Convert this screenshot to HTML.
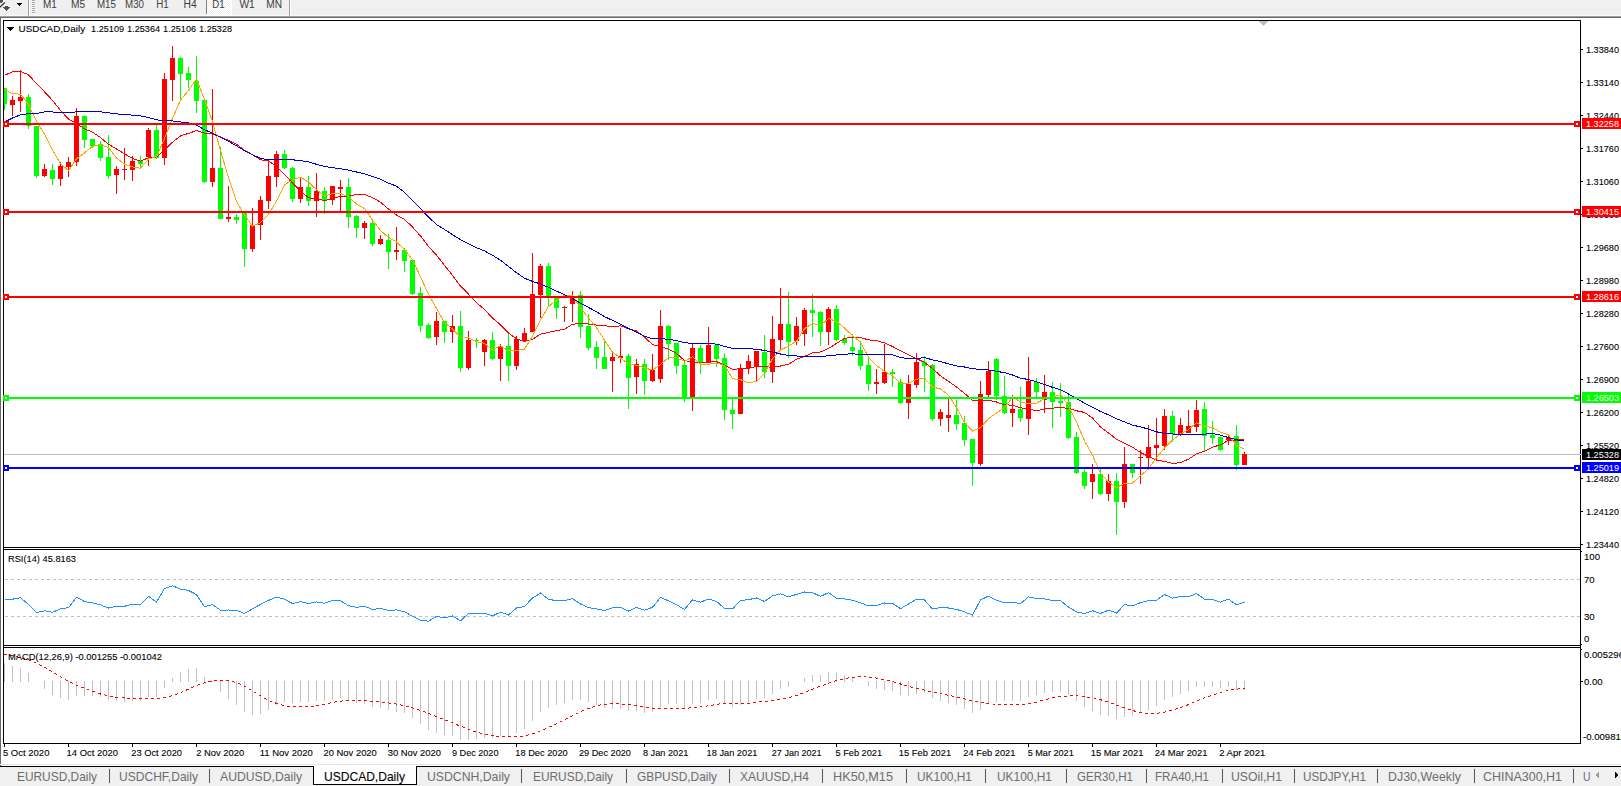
<!DOCTYPE html><html><head><meta charset="utf-8"><title>USDCAD,Daily</title>
<style>html,body{margin:0;padding:0;background:#fff;overflow:hidden}svg{display:block}text{font-family:"Liberation Sans",sans-serif;}</style></head><body>
<svg width="1621" height="786" viewBox="0 0 1621 786">
<rect x="0" y="0" width="1621" height="786" fill="#fff"/>
<defs><pattern id="chk" width="2" height="2" patternUnits="userSpaceOnUse"><rect width="2" height="2" fill="#f0f0f0"/><rect x="0" y="0" width="1" height="1" fill="#fff"/><rect x="1" y="1" width="1" height="1" fill="#fff"/></pattern></defs>
<g shape-rendering="crispEdges">
<rect x="0" y="0" width="1621" height="15" fill="#f0f0f0" />
<rect x="0" y="15" width="1621" height="1" fill="#fafafa" />
<rect x="0" y="16" width="1621" height="1" fill="#a0a0a0" />
<rect x="0" y="17" width="1621" height="1" fill="#696969" />
<rect x="0" y="18" width="1" height="768" fill="#696969" />
<rect x="28" y="0" width="1" height="16" fill="#a0a0a0" />
<rect x="29" y="0" width="1" height="15" fill="#ffffff" />
<rect x="32" y="0" width="3" height="1" fill="#a8a8a8" />
<rect x="32" y="1" width="3" height="1" fill="#fbfbfb" />
<rect x="32" y="2" width="3" height="1" fill="#a8a8a8" />
<rect x="32" y="3" width="3" height="1" fill="#fbfbfb" />
<rect x="32" y="4" width="3" height="1" fill="#a8a8a8" />
<rect x="32" y="5" width="3" height="1" fill="#fbfbfb" />
<rect x="32" y="6" width="3" height="1" fill="#a8a8a8" />
<rect x="32" y="7" width="3" height="1" fill="#fbfbfb" />
<rect x="32" y="8" width="3" height="1" fill="#a8a8a8" />
<rect x="32" y="9" width="3" height="1" fill="#fbfbfb" />
<rect x="32" y="10" width="3" height="1" fill="#a8a8a8" />
<rect x="32" y="11" width="3" height="1" fill="#fbfbfb" />
<rect x="32" y="12" width="3" height="1" fill="#a8a8a8" />
<rect x="32" y="13" width="3" height="1" fill="#fbfbfb" />
<rect x="207" y="0" width="24" height="14" fill="url(#chk)" />
<rect x="207" y="14" width="25" height="1" fill="#fff" />
<rect x="231" y="0" width="1" height="14" fill="#fff" />
<rect x="206" y="0" width="1" height="14" fill="#808080" />
<rect x="289" y="0" width="1" height="16" fill="#a0a0a0" />
<rect x="290" y="0" width="1" height="15" fill="#ffffff" />
<rect x="17" y="3" width="5" height="1" fill="#000" />
<rect x="18" y="4" width="3" height="1" fill="#000" />
<rect x="19" y="5" width="1" height="1" fill="#000" />
<rect x="5" y="6" width="3" height="1" fill="#505050" />
<rect x="3" y="7" width="7" height="1" fill="#505050" />
<rect x="4" y="8" width="5" height="1" fill="#505050" />
<rect x="5" y="9" width="3" height="1" fill="#505050" />
<rect x="6" y="10" width="1" height="1" fill="#505050" />
<rect x="0" y="0" width="3" height="2" fill="#505050" />
<rect x="0" y="2" width="2" height="1" fill="#606060" />
</g>
<path d="M-0.5 7.6 L4.8 2.4" stroke="#3a3a3a" stroke-width="1.4" fill="none"/>
<text x="42.9" y="8" font-size="10" fill="#3c3c3c" textLength="13.8" lengthAdjust="spacingAndGlyphs" >M1</text>
<text x="71.0" y="8" font-size="10" fill="#3c3c3c" textLength="14.1" lengthAdjust="spacingAndGlyphs" >M5</text>
<text x="96.89999999999999" y="8" font-size="10" fill="#3c3c3c" textLength="19.0" lengthAdjust="spacingAndGlyphs" >M15</text>
<text x="125.0" y="8" font-size="10" fill="#3c3c3c" textLength="19.0" lengthAdjust="spacingAndGlyphs" >M30</text>
<text x="156.20000000000002" y="8" font-size="10" fill="#3c3c3c" textLength="12.5" lengthAdjust="spacingAndGlyphs" >H1</text>
<text x="183.5" y="8" font-size="10" fill="#3c3c3c" textLength="13.2" lengthAdjust="spacingAndGlyphs" >H4</text>
<text x="212.3" y="8" font-size="10" fill="#3c3c3c" textLength="12.4" lengthAdjust="spacingAndGlyphs" >D1</text>
<text x="239.4" y="8" font-size="10" fill="#3c3c3c" textLength="15.3" lengthAdjust="spacingAndGlyphs" >W1</text>
<text x="266.3" y="8" font-size="10" fill="#3c3c3c" textLength="15.8" lengthAdjust="spacingAndGlyphs" >MN</text>
<g shape-rendering="crispEdges">
<rect x="3" y="20" width="1578" height="1" fill="#000" />
<rect x="3" y="20" width="1" height="724" fill="#000" />
<rect x="1580" y="20" width="1" height="724" fill="#000" />
<rect x="3" y="743" width="1578" height="1" fill="#000" />
<rect x="3" y="547" width="1578" height="1" fill="#000" />
<rect x="3" y="549" width="1578" height="1" fill="#000" />
<rect x="4" y="548" width="1576" height="1" fill="#fff" />
<rect x="3" y="645" width="1578" height="1" fill="#000" />
<rect x="3" y="647" width="1578" height="1" fill="#000" />
<rect x="4" y="646" width="1576" height="1" fill="#fff" />
<rect x="1259" y="21" width="9" height="1" fill="#c0c0c0" />
<rect x="1260" y="22" width="7" height="1" fill="#c0c0c0" />
<rect x="1261" y="23" width="5" height="1" fill="#c0c0c0" />
<rect x="1262" y="24" width="3" height="1" fill="#c0c0c0" />
<rect x="1263" y="25" width="1" height="1" fill="#c0c0c0" />
</g>
<g shape-rendering="crispEdges">
<rect x="1581" y="49" width="2" height="1" fill="#000" />
<rect x="1581" y="82" width="2" height="1" fill="#000" />
<rect x="1581" y="115" width="2" height="1" fill="#000" />
<rect x="1581" y="148" width="2" height="1" fill="#000" />
<rect x="1581" y="181" width="2" height="1" fill="#000" />
<rect x="1581" y="214" width="2" height="1" fill="#000" />
<rect x="1581" y="247" width="2" height="1" fill="#000" />
<rect x="1581" y="280" width="2" height="1" fill="#000" />
<rect x="1581" y="313" width="2" height="1" fill="#000" />
<rect x="1581" y="346" width="2" height="1" fill="#000" />
<rect x="1581" y="379" width="2" height="1" fill="#000" />
<rect x="1581" y="412" width="2" height="1" fill="#000" />
<rect x="1581" y="445" width="2" height="1" fill="#000" />
<rect x="1581" y="478" width="2" height="1" fill="#000" />
<rect x="1581" y="511" width="2" height="1" fill="#000" />
<rect x="1581" y="544" width="2" height="1" fill="#000" />
</g>
<text x="1586" y="52.7" font-size="9.6" fill="#000" textLength="33" lengthAdjust="spacingAndGlyphs" stroke="#000" stroke-width="0.1" >1.33840</text>
<text x="1586" y="85.7" font-size="9.6" fill="#000" textLength="33" lengthAdjust="spacingAndGlyphs" stroke="#000" stroke-width="0.1" >1.33140</text>
<text x="1586" y="118.7" font-size="9.6" fill="#000" textLength="33" lengthAdjust="spacingAndGlyphs" stroke="#000" stroke-width="0.1" >1.32440</text>
<text x="1586" y="151.7" font-size="9.6" fill="#000" textLength="33" lengthAdjust="spacingAndGlyphs" stroke="#000" stroke-width="0.1" >1.31760</text>
<text x="1586" y="184.7" font-size="9.6" fill="#000" textLength="33" lengthAdjust="spacingAndGlyphs" stroke="#000" stroke-width="0.1" >1.31060</text>
<text x="1586" y="217.7" font-size="9.6" fill="#000" textLength="33" lengthAdjust="spacingAndGlyphs" stroke="#000" stroke-width="0.1" >1.30360</text>
<text x="1586" y="250.7" font-size="9.6" fill="#000" textLength="33" lengthAdjust="spacingAndGlyphs" stroke="#000" stroke-width="0.1" >1.29680</text>
<text x="1586" y="283.7" font-size="9.6" fill="#000" textLength="33" lengthAdjust="spacingAndGlyphs" stroke="#000" stroke-width="0.1" >1.28980</text>
<text x="1586" y="316.7" font-size="9.6" fill="#000" textLength="33" lengthAdjust="spacingAndGlyphs" stroke="#000" stroke-width="0.1" >1.28280</text>
<text x="1586" y="349.7" font-size="9.6" fill="#000" textLength="33" lengthAdjust="spacingAndGlyphs" stroke="#000" stroke-width="0.1" >1.27600</text>
<text x="1586" y="382.7" font-size="9.6" fill="#000" textLength="33" lengthAdjust="spacingAndGlyphs" stroke="#000" stroke-width="0.1" >1.26900</text>
<text x="1586" y="415.7" font-size="9.6" fill="#000" textLength="33" lengthAdjust="spacingAndGlyphs" stroke="#000" stroke-width="0.1" >1.26200</text>
<text x="1586" y="448.7" font-size="9.6" fill="#000" textLength="33" lengthAdjust="spacingAndGlyphs" stroke="#000" stroke-width="0.1" >1.25520</text>
<text x="1586" y="481.7" font-size="9.6" fill="#000" textLength="33" lengthAdjust="spacingAndGlyphs" stroke="#000" stroke-width="0.1" >1.24820</text>
<text x="1586" y="514.7" font-size="9.6" fill="#000" textLength="33" lengthAdjust="spacingAndGlyphs" stroke="#000" stroke-width="0.1" >1.24120</text>
<text x="1586" y="547.7" font-size="9.6" fill="#000" textLength="33" lengthAdjust="spacingAndGlyphs" stroke="#000" stroke-width="0.1" >1.23440</text>
<defs><clipPath id="cm"><rect x="4" y="21" width="1576" height="526"/></clipPath><clipPath id="cr"><rect x="4" y="550" width="1576" height="95"/></clipPath><clipPath id="cd"><rect x="4" y="648" width="1576" height="95"/></clipPath></defs>
<g shape-rendering="crispEdges">
<rect x="4" y="454" width="1578" height="1" fill="#c0c0c0" />
</g>
<g clip-path="url(#cm)" shape-rendering="crispEdges">
<rect x="4" y="88" width="1" height="22" fill="#00ff00" />
<rect x="2" y="88" width="5" height="16" fill="#00ff00" />
<rect x="12" y="96" width="1" height="20" fill="#ff0000" />
<rect x="10" y="100" width="5" height="5" fill="#ff0000" />
<rect x="20" y="70" width="1" height="42" fill="#ff0000" />
<rect x="18" y="97" width="5" height="4" fill="#ff0000" />
<rect x="28" y="94" width="1" height="35" fill="#00ff00" />
<rect x="26" y="97" width="5" height="29" fill="#00ff00" />
<rect x="36" y="126" width="1" height="52" fill="#00ff00" />
<rect x="34" y="126" width="5" height="50" fill="#00ff00" />
<rect x="44" y="164" width="1" height="13" fill="#ff0000" />
<rect x="42" y="169" width="5" height="7" fill="#ff0000" />
<rect x="52" y="164" width="1" height="21" fill="#00ff00" />
<rect x="50" y="170" width="5" height="9" fill="#00ff00" />
<rect x="60" y="162" width="1" height="24" fill="#ff0000" />
<rect x="58" y="166" width="5" height="13" fill="#ff0000" />
<rect x="68" y="157" width="1" height="20" fill="#ff0000" />
<rect x="66" y="162" width="5" height="5" fill="#ff0000" />
<rect x="76" y="108" width="1" height="58" fill="#ff0000" />
<rect x="74" y="116" width="5" height="46" fill="#ff0000" />
<rect x="84" y="116" width="1" height="32" fill="#00ff00" />
<rect x="82" y="116" width="5" height="24" fill="#00ff00" />
<rect x="92" y="139" width="1" height="9" fill="#00ff00" />
<rect x="90" y="139" width="5" height="7" fill="#00ff00" />
<rect x="100" y="141" width="1" height="20" fill="#00ff00" />
<rect x="98" y="144" width="5" height="14" fill="#00ff00" />
<rect x="108" y="135" width="1" height="44" fill="#00ff00" />
<rect x="106" y="157" width="5" height="19" fill="#00ff00" />
<rect x="116" y="166" width="1" height="28" fill="#ff0000" />
<rect x="114" y="169" width="5" height="6" fill="#ff0000" />
<rect x="124" y="148" width="1" height="32" fill="#ff0000" />
<rect x="122" y="169" width="5" height="1" fill="#ff0000" />
<rect x="132" y="156" width="1" height="25" fill="#ff0000" />
<rect x="130" y="161" width="5" height="9" fill="#ff0000" />
<rect x="140" y="156" width="1" height="12" fill="#00ff00" />
<rect x="138" y="161" width="5" height="3" fill="#00ff00" />
<rect x="148" y="128" width="1" height="38" fill="#ff0000" />
<rect x="146" y="130" width="5" height="27" fill="#ff0000" />
<rect x="156" y="125" width="1" height="34" fill="#00ff00" />
<rect x="154" y="130" width="5" height="28" fill="#00ff00" />
<rect x="164" y="73" width="1" height="92" fill="#ff0000" />
<rect x="162" y="79" width="5" height="79" fill="#ff0000" />
<rect x="172" y="46" width="1" height="55" fill="#ff0000" />
<rect x="170" y="58" width="5" height="22" fill="#ff0000" />
<rect x="180" y="57" width="1" height="42" fill="#00ff00" />
<rect x="178" y="58" width="5" height="16" fill="#00ff00" />
<rect x="188" y="67" width="1" height="21" fill="#00ff00" />
<rect x="186" y="73" width="5" height="7" fill="#00ff00" />
<rect x="196" y="56" width="1" height="57" fill="#00ff00" />
<rect x="194" y="81" width="5" height="20" fill="#00ff00" />
<rect x="204" y="100" width="1" height="83" fill="#00ff00" />
<rect x="202" y="100" width="5" height="82" fill="#00ff00" />
<rect x="212" y="89" width="1" height="98" fill="#ff0000" />
<rect x="210" y="168" width="5" height="14" fill="#ff0000" />
<rect x="220" y="147" width="1" height="72" fill="#00ff00" />
<rect x="218" y="168" width="5" height="51" fill="#00ff00" />
<rect x="228" y="186" width="1" height="36" fill="#ff0000" />
<rect x="226" y="217" width="5" height="2" fill="#ff0000" />
<rect x="236" y="214" width="1" height="10" fill="#00ff00" />
<rect x="234" y="217" width="5" height="3" fill="#00ff00" />
<rect x="244" y="212" width="1" height="55" fill="#00ff00" />
<rect x="242" y="213" width="5" height="36" fill="#00ff00" />
<rect x="252" y="208" width="1" height="44" fill="#ff0000" />
<rect x="250" y="225" width="5" height="24" fill="#ff0000" />
<rect x="260" y="196" width="1" height="44" fill="#ff0000" />
<rect x="258" y="200" width="5" height="25" fill="#ff0000" />
<rect x="268" y="161" width="1" height="48" fill="#ff0000" />
<rect x="266" y="176" width="5" height="25" fill="#ff0000" />
<rect x="276" y="151" width="1" height="36" fill="#ff0000" />
<rect x="274" y="154" width="5" height="23" fill="#ff0000" />
<rect x="284" y="150" width="1" height="19" fill="#00ff00" />
<rect x="282" y="154" width="5" height="14" fill="#00ff00" />
<rect x="292" y="167" width="1" height="35" fill="#00ff00" />
<rect x="290" y="168" width="5" height="31" fill="#00ff00" />
<rect x="300" y="177" width="1" height="26" fill="#ff0000" />
<rect x="298" y="187" width="5" height="12" fill="#ff0000" />
<rect x="308" y="176" width="1" height="30" fill="#00ff00" />
<rect x="306" y="187" width="5" height="14" fill="#00ff00" />
<rect x="316" y="173" width="1" height="44" fill="#ff0000" />
<rect x="314" y="191" width="5" height="10" fill="#ff0000" />
<rect x="324" y="187" width="1" height="27" fill="#00ff00" />
<rect x="322" y="191" width="5" height="9" fill="#00ff00" />
<rect x="332" y="186" width="1" height="19" fill="#ff0000" />
<rect x="330" y="186" width="5" height="14" fill="#ff0000" />
<rect x="340" y="180" width="1" height="32" fill="#ff0000" />
<rect x="338" y="187" width="5" height="2" fill="#ff0000" />
<rect x="348" y="178" width="1" height="50" fill="#00ff00" />
<rect x="346" y="187" width="5" height="30" fill="#00ff00" />
<rect x="356" y="215" width="1" height="23" fill="#00ff00" />
<rect x="354" y="216" width="5" height="12" fill="#00ff00" />
<rect x="364" y="221" width="1" height="18" fill="#ff0000" />
<rect x="362" y="223" width="5" height="5" fill="#ff0000" />
<rect x="372" y="220" width="1" height="26" fill="#00ff00" />
<rect x="370" y="223" width="5" height="21" fill="#00ff00" />
<rect x="380" y="235" width="1" height="10" fill="#ff0000" />
<rect x="378" y="239" width="5" height="5" fill="#ff0000" />
<rect x="388" y="234" width="1" height="35" fill="#00ff00" />
<rect x="386" y="240" width="5" height="12" fill="#00ff00" />
<rect x="396" y="227" width="1" height="33" fill="#ff0000" />
<rect x="394" y="250" width="5" height="2" fill="#ff0000" />
<rect x="404" y="248" width="1" height="24" fill="#00ff00" />
<rect x="402" y="250" width="5" height="11" fill="#00ff00" />
<rect x="412" y="260" width="1" height="35" fill="#00ff00" />
<rect x="410" y="260" width="5" height="34" fill="#00ff00" />
<rect x="420" y="287" width="1" height="45" fill="#00ff00" />
<rect x="418" y="293" width="5" height="33" fill="#00ff00" />
<rect x="428" y="323" width="1" height="16" fill="#00ff00" />
<rect x="426" y="325" width="5" height="13" fill="#00ff00" />
<rect x="436" y="312" width="1" height="33" fill="#ff0000" />
<rect x="434" y="321" width="5" height="16" fill="#ff0000" />
<rect x="444" y="321" width="1" height="22" fill="#00ff00" />
<rect x="442" y="321" width="5" height="11" fill="#00ff00" />
<rect x="452" y="315" width="1" height="28" fill="#ff0000" />
<rect x="450" y="326" width="5" height="6" fill="#ff0000" />
<rect x="460" y="311" width="1" height="61" fill="#00ff00" />
<rect x="458" y="326" width="5" height="42" fill="#00ff00" />
<rect x="468" y="331" width="1" height="39" fill="#ff0000" />
<rect x="466" y="340" width="5" height="28" fill="#ff0000" />
<rect x="476" y="338" width="1" height="10" fill="#00ff00" />
<rect x="474" y="340" width="5" height="1" fill="#00ff00" />
<rect x="484" y="339" width="1" height="27" fill="#ff0000" />
<rect x="482" y="340" width="5" height="12" fill="#ff0000" />
<rect x="492" y="332" width="1" height="28" fill="#00ff00" />
<rect x="490" y="340" width="5" height="19" fill="#00ff00" />
<rect x="500" y="344" width="1" height="37" fill="#ff0000" />
<rect x="498" y="346" width="5" height="13" fill="#ff0000" />
<rect x="508" y="333" width="1" height="48" fill="#00ff00" />
<rect x="506" y="346" width="5" height="20" fill="#00ff00" />
<rect x="516" y="336" width="1" height="34" fill="#ff0000" />
<rect x="514" y="339" width="5" height="27" fill="#ff0000" />
<rect x="524" y="328" width="1" height="14" fill="#ff0000" />
<rect x="522" y="333" width="5" height="8" fill="#ff0000" />
<rect x="532" y="253" width="1" height="79" fill="#ff0000" />
<rect x="530" y="294" width="5" height="38" fill="#ff0000" />
<rect x="540" y="264" width="1" height="54" fill="#ff0000" />
<rect x="538" y="266" width="5" height="29" fill="#ff0000" />
<rect x="548" y="263" width="1" height="43" fill="#00ff00" />
<rect x="546" y="266" width="5" height="32" fill="#00ff00" />
<rect x="556" y="298" width="1" height="21" fill="#00ff00" />
<rect x="554" y="298" width="5" height="10" fill="#00ff00" />
<rect x="564" y="306" width="1" height="16" fill="#ff0000" />
<rect x="562" y="307" width="5" height="1" fill="#ff0000" />
<rect x="572" y="291" width="1" height="31" fill="#ff0000" />
<rect x="570" y="298" width="5" height="6" fill="#ff0000" />
<rect x="580" y="291" width="1" height="47" fill="#00ff00" />
<rect x="578" y="295" width="5" height="32" fill="#00ff00" />
<rect x="588" y="314" width="1" height="36" fill="#00ff00" />
<rect x="586" y="326" width="5" height="22" fill="#00ff00" />
<rect x="596" y="341" width="1" height="28" fill="#00ff00" />
<rect x="594" y="347" width="5" height="11" fill="#00ff00" />
<rect x="604" y="341" width="1" height="28" fill="#00ff00" />
<rect x="602" y="357" width="5" height="12" fill="#00ff00" />
<rect x="612" y="353" width="1" height="39" fill="#ff0000" />
<rect x="610" y="357" width="5" height="4" fill="#ff0000" />
<rect x="620" y="328" width="1" height="35" fill="#ff0000" />
<rect x="618" y="356" width="5" height="2" fill="#ff0000" />
<rect x="628" y="354" width="1" height="55" fill="#00ff00" />
<rect x="626" y="356" width="5" height="22" fill="#00ff00" />
<rect x="636" y="359" width="1" height="35" fill="#ff0000" />
<rect x="634" y="364" width="5" height="13" fill="#ff0000" />
<rect x="644" y="359" width="1" height="36" fill="#00ff00" />
<rect x="642" y="364" width="5" height="17" fill="#00ff00" />
<rect x="652" y="354" width="1" height="28" fill="#ff0000" />
<rect x="650" y="370" width="5" height="11" fill="#ff0000" />
<rect x="660" y="310" width="1" height="73" fill="#ff0000" />
<rect x="658" y="326" width="5" height="53" fill="#ff0000" />
<rect x="668" y="325" width="1" height="35" fill="#00ff00" />
<rect x="666" y="326" width="5" height="18" fill="#00ff00" />
<rect x="676" y="343" width="1" height="31" fill="#00ff00" />
<rect x="674" y="343" width="5" height="23" fill="#00ff00" />
<rect x="684" y="361" width="1" height="41" fill="#00ff00" />
<rect x="682" y="365" width="5" height="33" fill="#00ff00" />
<rect x="692" y="344" width="1" height="67" fill="#ff0000" />
<rect x="690" y="348" width="5" height="50" fill="#ff0000" />
<rect x="700" y="345" width="1" height="29" fill="#00ff00" />
<rect x="698" y="348" width="5" height="15" fill="#00ff00" />
<rect x="708" y="327" width="1" height="35" fill="#ff0000" />
<rect x="706" y="345" width="5" height="17" fill="#ff0000" />
<rect x="716" y="344" width="1" height="23" fill="#00ff00" />
<rect x="714" y="345" width="5" height="14" fill="#00ff00" />
<rect x="724" y="353" width="1" height="67" fill="#00ff00" />
<rect x="722" y="358" width="5" height="52" fill="#00ff00" />
<rect x="732" y="399" width="1" height="30" fill="#00ff00" />
<rect x="730" y="410" width="5" height="4" fill="#00ff00" />
<rect x="740" y="364" width="1" height="50" fill="#ff0000" />
<rect x="738" y="368" width="5" height="46" fill="#ff0000" />
<rect x="748" y="355" width="1" height="19" fill="#ff0000" />
<rect x="746" y="361" width="5" height="7" fill="#ff0000" />
<rect x="756" y="351" width="1" height="30" fill="#ff0000" />
<rect x="754" y="351" width="5" height="15" fill="#ff0000" />
<rect x="764" y="335" width="1" height="43" fill="#00ff00" />
<rect x="762" y="352" width="5" height="20" fill="#00ff00" />
<rect x="772" y="316" width="1" height="67" fill="#ff0000" />
<rect x="770" y="339" width="5" height="33" fill="#ff0000" />
<rect x="780" y="288" width="1" height="62" fill="#ff0000" />
<rect x="778" y="324" width="5" height="16" fill="#ff0000" />
<rect x="788" y="292" width="1" height="66" fill="#00ff00" />
<rect x="786" y="324" width="5" height="18" fill="#00ff00" />
<rect x="796" y="317" width="1" height="28" fill="#ff0000" />
<rect x="794" y="326" width="5" height="15" fill="#ff0000" />
<rect x="804" y="308" width="1" height="38" fill="#ff0000" />
<rect x="802" y="310" width="5" height="24" fill="#ff0000" />
<rect x="812" y="294" width="1" height="43" fill="#00ff00" />
<rect x="810" y="310" width="5" height="3" fill="#00ff00" />
<rect x="820" y="311" width="1" height="35" fill="#00ff00" />
<rect x="818" y="312" width="5" height="20" fill="#00ff00" />
<rect x="828" y="307" width="1" height="38" fill="#ff0000" />
<rect x="826" y="309" width="5" height="23" fill="#ff0000" />
<rect x="836" y="305" width="1" height="36" fill="#00ff00" />
<rect x="834" y="309" width="5" height="31" fill="#00ff00" />
<rect x="844" y="335" width="1" height="10" fill="#00ff00" />
<rect x="842" y="339" width="5" height="4" fill="#00ff00" />
<rect x="852" y="334" width="1" height="22" fill="#00ff00" />
<rect x="850" y="347" width="5" height="4" fill="#00ff00" />
<rect x="860" y="341" width="1" height="29" fill="#00ff00" />
<rect x="858" y="350" width="5" height="16" fill="#00ff00" />
<rect x="868" y="358" width="1" height="33" fill="#00ff00" />
<rect x="866" y="365" width="5" height="19" fill="#00ff00" />
<rect x="876" y="369" width="1" height="25" fill="#ff0000" />
<rect x="874" y="382" width="5" height="2" fill="#ff0000" />
<rect x="884" y="344" width="1" height="40" fill="#ff0000" />
<rect x="882" y="372" width="5" height="11" fill="#ff0000" />
<rect x="892" y="369" width="1" height="18" fill="#00ff00" />
<rect x="890" y="372" width="5" height="2" fill="#00ff00" />
<rect x="900" y="379" width="1" height="25" fill="#00ff00" />
<rect x="898" y="382" width="5" height="21" fill="#00ff00" />
<rect x="908" y="375" width="1" height="44" fill="#ff0000" />
<rect x="906" y="384" width="5" height="19" fill="#ff0000" />
<rect x="916" y="353" width="1" height="35" fill="#ff0000" />
<rect x="914" y="362" width="5" height="23" fill="#ff0000" />
<rect x="924" y="356" width="1" height="36" fill="#00ff00" />
<rect x="922" y="362" width="5" height="4" fill="#00ff00" />
<rect x="932" y="364" width="1" height="57" fill="#00ff00" />
<rect x="930" y="365" width="5" height="54" fill="#00ff00" />
<rect x="940" y="409" width="1" height="17" fill="#ff0000" />
<rect x="938" y="412" width="5" height="7" fill="#ff0000" />
<rect x="948" y="399" width="1" height="33" fill="#ff0000" />
<rect x="946" y="415" width="5" height="3" fill="#ff0000" />
<rect x="956" y="400" width="1" height="30" fill="#00ff00" />
<rect x="954" y="415" width="5" height="9" fill="#00ff00" />
<rect x="964" y="416" width="1" height="30" fill="#00ff00" />
<rect x="962" y="423" width="5" height="17" fill="#00ff00" />
<rect x="972" y="439" width="1" height="47" fill="#00ff00" />
<rect x="970" y="439" width="5" height="24" fill="#00ff00" />
<rect x="980" y="381" width="1" height="85" fill="#ff0000" />
<rect x="978" y="394" width="5" height="70" fill="#ff0000" />
<rect x="988" y="361" width="1" height="36" fill="#ff0000" />
<rect x="986" y="371" width="5" height="24" fill="#ff0000" />
<rect x="996" y="358" width="1" height="42" fill="#00ff00" />
<rect x="994" y="359" width="5" height="37" fill="#00ff00" />
<rect x="1004" y="376" width="1" height="38" fill="#00ff00" />
<rect x="1002" y="396" width="5" height="17" fill="#00ff00" />
<rect x="1012" y="395" width="1" height="32" fill="#ff0000" />
<rect x="1010" y="409" width="5" height="4" fill="#ff0000" />
<rect x="1020" y="387" width="1" height="35" fill="#00ff00" />
<rect x="1018" y="409" width="5" height="9" fill="#00ff00" />
<rect x="1028" y="357" width="1" height="78" fill="#ff0000" />
<rect x="1026" y="381" width="5" height="38" fill="#ff0000" />
<rect x="1036" y="378" width="1" height="20" fill="#00ff00" />
<rect x="1034" y="382" width="5" height="10" fill="#00ff00" />
<rect x="1044" y="375" width="1" height="38" fill="#ff0000" />
<rect x="1042" y="392" width="5" height="8" fill="#ff0000" />
<rect x="1052" y="382" width="1" height="46" fill="#00ff00" />
<rect x="1050" y="392" width="5" height="10" fill="#00ff00" />
<rect x="1060" y="383" width="1" height="34" fill="#00ff00" />
<rect x="1058" y="401" width="5" height="2" fill="#00ff00" />
<rect x="1068" y="393" width="1" height="46" fill="#00ff00" />
<rect x="1066" y="402" width="5" height="36" fill="#00ff00" />
<rect x="1076" y="432" width="1" height="42" fill="#00ff00" />
<rect x="1074" y="437" width="5" height="36" fill="#00ff00" />
<rect x="1084" y="469" width="1" height="20" fill="#00ff00" />
<rect x="1082" y="472" width="5" height="14" fill="#00ff00" />
<rect x="1092" y="464" width="1" height="35" fill="#ff0000" />
<rect x="1090" y="474" width="5" height="8" fill="#ff0000" />
<rect x="1100" y="469" width="1" height="26" fill="#00ff00" />
<rect x="1098" y="474" width="5" height="20" fill="#00ff00" />
<rect x="1108" y="474" width="1" height="27" fill="#ff0000" />
<rect x="1106" y="481" width="5" height="13" fill="#ff0000" />
<rect x="1116" y="473" width="1" height="62" fill="#00ff00" />
<rect x="1114" y="481" width="5" height="21" fill="#00ff00" />
<rect x="1124" y="447" width="1" height="61" fill="#ff0000" />
<rect x="1122" y="464" width="5" height="38" fill="#ff0000" />
<rect x="1132" y="464" width="1" height="14" fill="#00ff00" />
<rect x="1130" y="464" width="5" height="9" fill="#00ff00" />
<rect x="1140" y="450" width="1" height="34" fill="#ff0000" />
<rect x="1138" y="457" width="5" height="1" fill="#ff0000" />
<rect x="1148" y="425" width="1" height="42" fill="#ff0000" />
<rect x="1146" y="447" width="5" height="11" fill="#ff0000" />
<rect x="1156" y="418" width="1" height="43" fill="#ff0000" />
<rect x="1154" y="445" width="5" height="3" fill="#ff0000" />
<rect x="1164" y="409" width="1" height="41" fill="#ff0000" />
<rect x="1162" y="416" width="5" height="30" fill="#ff0000" />
<rect x="1172" y="411" width="1" height="31" fill="#00ff00" />
<rect x="1170" y="416" width="5" height="18" fill="#00ff00" />
<rect x="1180" y="418" width="1" height="18" fill="#ff0000" />
<rect x="1178" y="425" width="5" height="9" fill="#ff0000" />
<rect x="1188" y="410" width="1" height="23" fill="#ff0000" />
<rect x="1186" y="426" width="5" height="7" fill="#ff0000" />
<rect x="1196" y="400" width="1" height="32" fill="#ff0000" />
<rect x="1194" y="410" width="5" height="17" fill="#ff0000" />
<rect x="1204" y="402" width="1" height="50" fill="#00ff00" />
<rect x="1202" y="409" width="5" height="27" fill="#00ff00" />
<rect x="1212" y="421" width="1" height="23" fill="#00ff00" />
<rect x="1210" y="435" width="5" height="3" fill="#00ff00" />
<rect x="1220" y="437" width="1" height="14" fill="#00ff00" />
<rect x="1218" y="437" width="5" height="13" fill="#00ff00" />
<rect x="1228" y="436" width="1" height="9" fill="#ff0000" />
<rect x="1226" y="437" width="5" height="3" fill="#ff0000" />
<rect x="1236" y="425" width="1" height="45" fill="#00ff00" />
<rect x="1234" y="436" width="5" height="29" fill="#00ff00" />
<rect x="1244" y="452" width="1" height="13" fill="#ff0000" />
<rect x="1242" y="454" width="5" height="11" fill="#ff0000" />
</g>
<g clip-path="url(#cm)" shape-rendering="crispEdges">
<polyline points="4.5,75.3 12.5,71.8 20.5,71.3 28.5,74.8 36.5,83.5 44.5,91.8 52.5,100.3 60.5,110.3 68.5,119.2 76.5,123.5 84.5,128.8 92.5,132.2 100.5,137.5 108.5,144.3 116.5,149.0 124.5,153.9 132.5,158.4 140.5,161.1 148.5,157.8 156.5,157.0 164.5,149.9 172.5,142.2 180.5,135.9 188.5,133.4 196.5,130.6 204.5,133.2 212.5,133.9 220.5,137.0 228.5,140.4 236.5,144.1 244.5,150.3 252.5,154.7 260.5,159.7 268.5,161.0 276.5,166.4 284.5,174.2 292.5,183.1 300.5,190.7 308.5,197.9 316.5,198.5 324.5,200.8 332.5,198.5 340.5,196.3 348.5,196.1 356.5,194.6 364.5,194.5 372.5,197.6 380.5,202.1 388.5,209.1 396.5,215.0 404.5,219.4 412.5,227.0 420.5,236.0 428.5,246.5 436.5,255.1 444.5,265.5 452.5,275.4 460.5,286.2 468.5,294.2 476.5,302.7 484.5,309.5 492.5,318.1 500.5,324.8 508.5,333.1 516.5,338.7 524.5,341.5 532.5,339.2 540.5,334.1 548.5,332.4 556.5,330.7 564.5,329.3 572.5,324.3 580.5,323.4 588.5,323.9 596.5,325.1 604.5,325.8 612.5,326.6 620.5,325.9 628.5,328.7 636.5,330.9 644.5,337.1 652.5,344.6 660.5,346.6 668.5,349.2 676.5,353.4 684.5,360.5 692.5,362.0 700.5,363.1 708.5,362.2 716.5,361.5 724.5,365.3 732.5,369.4 740.5,368.7 748.5,368.5 756.5,366.4 764.5,366.5 772.5,367.4 780.5,366.0 788.5,364.3 796.5,359.2 804.5,356.5 812.5,352.9 820.5,352.0 828.5,348.5 836.5,343.4 844.5,338.4 852.5,337.2 860.5,337.5 868.5,339.9 876.5,340.6 884.5,342.9 892.5,346.5 900.5,350.8 908.5,354.9 916.5,358.6 924.5,362.4 932.5,368.6 940.5,375.9 948.5,381.3 956.5,387.0 964.5,393.4 972.5,400.3 980.5,401.1 988.5,400.2 996.5,402.0 1004.5,404.8 1012.5,405.2 1020.5,407.7 1028.5,409.0 1036.5,410.9 1044.5,409.0 1052.5,408.2 1060.5,407.4 1068.5,408.4 1076.5,410.8 1084.5,412.4 1092.5,418.1 1100.5,426.9 1108.5,432.9 1116.5,439.3 1124.5,443.2 1132.5,447.1 1140.5,452.5 1148.5,456.5 1156.5,460.3 1164.5,461.3 1172.5,463.5 1180.5,462.6 1188.5,459.2 1196.5,453.8 1204.5,451.1 1212.5,447.1 1220.5,444.9 1228.5,440.3 1236.5,440.3 1244.5,439.0" fill="none" stroke="#ff0000" stroke-width="1" />
<polyline points="4.5,89.2 12.5,93.8 20.5,94.1 28.5,104.5 36.5,121.2 44.5,134.2 52.5,149.9 60.5,163.7 68.5,170.7 76.5,158.8 84.5,152.9 92.5,146.3 100.5,144.6 108.5,147.5 116.5,158.1 124.5,164.0 132.5,166.9 140.5,168.2 148.5,159.0 156.5,156.7 164.5,138.7 172.5,118.2 180.5,100.2 188.5,90.3 196.5,79.0 204.5,99.5 212.5,121.5 220.5,150.5 228.5,177.8 236.5,201.5 244.5,214.9 252.5,226.3 260.5,222.6 268.5,214.4 276.5,201.2 284.5,185.1 292.5,179.8 300.5,177.2 308.5,182.2 316.5,189.6 324.5,196.0 332.5,193.5 340.5,193.5 348.5,196.7 356.5,204.1 364.5,208.6 372.5,220.1 380.5,230.5 388.5,237.5 396.5,242.0 404.5,249.5 412.5,259.6 420.5,277.0 428.5,294.2 436.5,308.4 444.5,322.6 452.5,329.0 460.5,337.3 468.5,337.7 476.5,341.7 484.5,343.4 492.5,350.0 500.5,345.7 508.5,350.9 516.5,350.5 524.5,349.1 532.5,336.1 540.5,320.0 548.5,306.5 556.5,300.2 564.5,295.0 572.5,295.7 580.5,307.8 588.5,317.8 596.5,327.8 604.5,340.2 612.5,352.1 620.5,357.9 628.5,363.9 636.5,365.3 644.5,367.7 652.5,370.3 660.5,364.4 668.5,357.5 676.5,357.8 684.5,361.2 692.5,356.8 700.5,364.1 708.5,364.3 716.5,362.9 724.5,365.5 732.5,378.7 740.5,379.6 748.5,382.9 756.5,381.3 764.5,373.7 772.5,358.7 780.5,350.0 788.5,346.1 796.5,341.2 804.5,328.7 812.5,323.5 820.5,325.2 828.5,318.6 836.5,321.4 844.5,328.0 852.5,335.6 860.5,342.3 868.5,357.2 876.5,365.6 884.5,371.3 892.5,375.9 900.5,383.3 908.5,383.3 916.5,379.3 924.5,378.1 932.5,387.1 940.5,388.9 948.5,395.2 956.5,407.6 964.5,422.4 972.5,431.2 980.5,427.6 988.5,418.7 996.5,413.1 1004.5,407.8 1012.5,397.0 1020.5,401.9 1028.5,403.9 1036.5,403.1 1044.5,398.9 1052.5,397.4 1060.5,394.3 1068.5,405.7 1076.5,422.0 1084.5,440.7 1092.5,455.1 1100.5,473.3 1108.5,481.9 1116.5,487.7 1124.5,483.4 1132.5,483.1 1140.5,475.7 1148.5,468.9 1156.5,457.6 1164.5,448.0 1172.5,440.2 1180.5,433.9 1188.5,429.6 1196.5,422.6 1204.5,426.6 1212.5,427.4 1220.5,432.4 1228.5,434.7 1236.5,445.6 1244.5,449.2" fill="none" stroke="#ffa500" stroke-width="1" />
<polyline points="4.5,122.0 12.5,118.0 20.5,114.8 28.5,113.7 36.5,113.5 44.5,111.9 52.5,111.9 60.5,112.9 68.5,112.9 76.5,111.8 84.5,111.8 92.5,111.8 100.5,111.8 108.5,112.8 116.5,113.8 124.5,114.7 132.5,115.1 140.5,115.9 148.5,117.5 156.5,119.8 164.5,120.9 172.5,120.9 180.5,122.0 188.5,123.0 196.5,125.1 204.5,129.7 212.5,133.2 220.5,137.2 228.5,141.3 236.5,145.9 244.5,150.7 252.5,154.9 260.5,158.3 268.5,159.9 276.5,159.2 284.5,159.2 292.5,159.8 300.5,160.6 308.5,161.9 316.5,164.3 324.5,166.4 332.5,167.7 340.5,168.7 348.5,170.1 356.5,172.0 364.5,173.8 372.5,176.6 380.5,179.1 388.5,183.1 396.5,186.2 404.5,192.3 412.5,200.2 420.5,208.5 428.5,217.1 436.5,224.5 444.5,229.5 452.5,234.7 460.5,239.7 468.5,243.8 476.5,247.8 484.5,250.9 492.5,255.3 500.5,260.2 508.5,266.5 516.5,272.7 524.5,278.2 532.5,281.4 540.5,284.0 548.5,287.3 556.5,291.1 564.5,294.7 572.5,298.4 580.5,303.1 588.5,307.4 596.5,311.8 604.5,316.6 612.5,320.4 620.5,324.3 628.5,328.5 636.5,332.3 644.5,336.3 652.5,338.9 660.5,338.9 668.5,339.1 676.5,340.6 684.5,342.7 692.5,343.5 700.5,343.3 708.5,343.5 716.5,344.1 724.5,346.4 732.5,348.3 740.5,349.0 748.5,348.8 756.5,349.2 764.5,350.5 772.5,352.0 780.5,354.0 788.5,355.4 796.5,356.0 804.5,356.2 812.5,356.7 820.5,356.9 828.5,355.6 836.5,355.0 844.5,354.1 852.5,353.9 860.5,354.2 868.5,354.4 876.5,355.0 884.5,354.7 892.5,354.9 900.5,357.4 908.5,358.7 916.5,358.6 924.5,357.5 932.5,359.9 940.5,361.5 948.5,363.9 956.5,366.0 964.5,367.0 972.5,368.7 980.5,369.5 988.5,369.9 996.5,371.3 1004.5,372.7 1012.5,375.0 1020.5,378.2 1028.5,379.5 1036.5,381.7 1044.5,384.4 1052.5,387.4 1060.5,389.7 1068.5,394.0 1076.5,398.4 1084.5,403.2 1092.5,407.3 1100.5,411.5 1108.5,414.8 1116.5,418.8 1124.5,421.9 1132.5,425.1 1140.5,426.9 1148.5,429.1 1156.5,431.8 1164.5,433.5 1172.5,434.0 1180.5,434.4 1188.5,434.8 1196.5,434.3 1204.5,434.2 1212.5,433.4 1220.5,435.2 1228.5,437.5 1236.5,439.8 1244.5,441.1" fill="none" stroke="#0000cd" stroke-width="1" />
</g>
<g shape-rendering="crispEdges">
<rect x="4" y="123" width="1576" height="2" fill="#ff0000" />
<rect x="3" y="121" width="6" height="6" fill="#ff0000" />
<rect x="5" y="123" width="2" height="2" fill="#fff" />
<rect x="1574" y="121" width="6" height="6" fill="#ff0000" />
<rect x="1576" y="123" width="2" height="2" fill="#fff" />
<rect x="1582" y="118" width="39" height="11" fill="#ff0000" />
<rect x="4" y="211" width="1576" height="2" fill="#ff0000" />
<rect x="3" y="209" width="6" height="6" fill="#ff0000" />
<rect x="5" y="211" width="2" height="2" fill="#fff" />
<rect x="1574" y="209" width="6" height="6" fill="#ff0000" />
<rect x="1576" y="211" width="2" height="2" fill="#fff" />
<rect x="1582" y="206" width="39" height="11" fill="#ff0000" />
<rect x="4" y="296" width="1576" height="2" fill="#ff0000" />
<rect x="3" y="294" width="6" height="6" fill="#ff0000" />
<rect x="5" y="296" width="2" height="2" fill="#fff" />
<rect x="1574" y="294" width="6" height="6" fill="#ff0000" />
<rect x="1576" y="296" width="2" height="2" fill="#fff" />
<rect x="1582" y="291" width="39" height="11" fill="#ff0000" />
<rect x="4" y="397" width="1576" height="2" fill="#00ff00" />
<rect x="3" y="395" width="6" height="6" fill="#00ff00" />
<rect x="5" y="397" width="2" height="2" fill="#fff" />
<rect x="1574" y="395" width="6" height="6" fill="#00ff00" />
<rect x="1576" y="397" width="2" height="2" fill="#fff" />
<rect x="1582" y="392" width="39" height="11" fill="#00ff00" />
<rect x="4" y="467" width="1576" height="2" fill="#0000ff" />
<rect x="3" y="465" width="6" height="6" fill="#0000ff" />
<rect x="5" y="467" width="2" height="2" fill="#fff" />
<rect x="1574" y="465" width="6" height="6" fill="#0000ff" />
<rect x="1576" y="467" width="2" height="2" fill="#fff" />
<rect x="1582" y="462" width="39" height="11" fill="#0000ff" />
<rect x="1582" y="449" width="39" height="11" fill="#000" />
</g>
<text x="1586" y="127" font-size="9.6" fill="#fff" textLength="33" lengthAdjust="spacingAndGlyphs" >1.32258</text>
<text x="1586" y="215" font-size="9.6" fill="#fff" textLength="33" lengthAdjust="spacingAndGlyphs" >1.30415</text>
<text x="1586" y="300" font-size="9.6" fill="#fff" textLength="33" lengthAdjust="spacingAndGlyphs" >1.28616</text>
<text x="1586" y="401" font-size="9.6" fill="#fff" textLength="33" lengthAdjust="spacingAndGlyphs" >1.26503</text>
<text x="1586" y="471" font-size="9.6" fill="#fff" textLength="33" lengthAdjust="spacingAndGlyphs" >1.25019</text>
<text x="1586" y="458" font-size="9.6" fill="#fff" textLength="33" lengthAdjust="spacingAndGlyphs" >1.25328</text>
<g shape-rendering="crispEdges">
<rect x="7" y="27" width="7" height="1" fill="#000" />
<rect x="8" y="28" width="5" height="1" fill="#000" />
<rect x="9" y="29" width="3" height="1" fill="#000" />
<rect x="10" y="30" width="1" height="1" fill="#000" />
</g>
<text x="18.6" y="32" font-size="9.6" fill="#000" textLength="66.5" lengthAdjust="spacingAndGlyphs" stroke="#000" stroke-width="0.1" >USDCAD,Daily</text>
<text x="91.1" y="32" font-size="9.6" fill="#000" textLength="33" lengthAdjust="spacingAndGlyphs" stroke="#000" stroke-width="0.1" >1.25109</text>
<text x="127.1" y="32" font-size="9.6" fill="#000" textLength="33" lengthAdjust="spacingAndGlyphs" stroke="#000" stroke-width="0.1" >1.25364</text>
<text x="163.1" y="32" font-size="9.6" fill="#000" textLength="33" lengthAdjust="spacingAndGlyphs" stroke="#000" stroke-width="0.1" >1.25106</text>
<text x="199.1" y="32" font-size="9.6" fill="#000" textLength="33" lengthAdjust="spacingAndGlyphs" stroke="#000" stroke-width="0.1" >1.25328</text>
<g shape-rendering="crispEdges">
<line x1="5" y1="579.5" x2="1580" y2="579.5" stroke="#c0c0c0" stroke-width="1" stroke-dasharray="3,3"/>
<line x1="5" y1="616.5" x2="1580" y2="616.5" stroke="#c0c0c0" stroke-width="1" stroke-dasharray="3,3"/>
</g>
<g clip-path="url(#cr)" shape-rendering="crispEdges">
<polyline points="4.5,599.2 12.5,599.2 20.5,597.7 28.5,604.4 36.5,612.6 44.5,610.8 52.5,612.3 60.5,608.8 68.5,607.7 76.5,597.1 84.5,601.6 92.5,602.8 100.5,604.9 108.5,608.0 116.5,606.3 124.5,606.3 132.5,604.1 140.5,604.7 148.5,596.3 156.5,602.2 164.5,588.5 172.5,585.8 180.5,589.1 188.5,590.5 196.5,594.6 204.5,606.8 212.5,604.5 220.5,610.3 228.5,610.0 236.5,610.3 244.5,613.5 252.5,608.8 260.5,604.4 268.5,600.4 276.5,597.1 284.5,599.2 292.5,603.6 300.5,601.7 308.5,603.6 316.5,601.9 324.5,603.3 332.5,600.6 340.5,600.8 348.5,605.7 356.5,607.4 364.5,606.3 372.5,609.5 380.5,608.4 388.5,610.4 396.5,609.9 404.5,611.7 412.5,616.4 420.5,620.1 428.5,621.3 436.5,616.4 444.5,617.7 452.5,616.0 460.5,620.8 468.5,613.5 476.5,613.6 484.5,613.3 492.5,615.9 500.5,612.2 508.5,615.0 516.5,608.0 524.5,606.5 532.5,598.0 540.5,593.1 548.5,599.2 556.5,600.8 564.5,600.6 572.5,598.7 580.5,604.1 588.5,607.5 596.5,608.9 604.5,610.6 612.5,607.7 620.5,607.4 628.5,611.0 636.5,607.5 644.5,610.2 652.5,607.3 660.5,597.5 668.5,600.8 676.5,604.7 684.5,609.5 692.5,599.9 700.5,602.2 708.5,599.1 716.5,601.3 724.5,608.5 732.5,608.9 740.5,600.6 748.5,599.6 756.5,598.0 764.5,601.4 772.5,595.9 780.5,593.8 788.5,596.8 796.5,594.4 804.5,592.0 812.5,592.6 820.5,596.4 828.5,592.6 836.5,598.3 844.5,598.9 852.5,600.2 860.5,602.8 868.5,605.8 876.5,605.4 884.5,603.0 892.5,603.4 900.5,608.7 908.5,604.0 916.5,599.2 924.5,600.0 932.5,609.0 940.5,607.5 948.5,608.0 956.5,609.4 964.5,611.9 972.5,615.1 980.5,599.9 988.5,596.1 996.5,600.2 1004.5,602.9 1012.5,602.1 1020.5,603.6 1028.5,596.8 1036.5,598.7 1044.5,598.8 1052.5,600.6 1060.5,600.8 1068.5,607.0 1076.5,611.9 1084.5,613.5 1092.5,610.7 1100.5,613.4 1108.5,610.2 1116.5,613.0 1124.5,604.6 1132.5,605.9 1140.5,602.6 1148.5,600.6 1156.5,600.2 1164.5,594.5 1172.5,598.2 1180.5,596.5 1188.5,596.7 1196.5,593.5 1204.5,599.2 1212.5,599.6 1220.5,602.1 1228.5,599.1 1236.5,604.7 1244.5,602.1" fill="none" stroke="#1e90ff" stroke-width="1" />
</g>
<text x="8" y="562" font-size="9.6" fill="#000" textLength="68" lengthAdjust="spacingAndGlyphs" stroke="#000" stroke-width="0.1" >RSI(14) 45.8163</text>
<text x="1584" y="560" font-size="9.6" fill="#000" stroke="#000" stroke-width="0.1" >100</text>
<text x="1584" y="583" font-size="9.6" fill="#000" stroke="#000" stroke-width="0.1" >70</text>
<text x="1584" y="620" font-size="9.6" fill="#000" stroke="#000" stroke-width="0.1" >30</text>
<text x="1584" y="642" font-size="9.6" fill="#000" stroke="#000" stroke-width="0.1" >0</text>
<g clip-path="url(#cd)" shape-rendering="crispEdges">
<rect x="4" y="663" width="1" height="19" fill="#c0c0c0" />
<rect x="12" y="666" width="1" height="16" fill="#c0c0c0" />
<rect x="20" y="668" width="1" height="14" fill="#c0c0c0" />
<rect x="28" y="673" width="1" height="9" fill="#c0c0c0" />
<rect x="44" y="681" width="1" height="8" fill="#c0c0c0" />
<rect x="52" y="681" width="1" height="14" fill="#c0c0c0" />
<rect x="60" y="681" width="1" height="17" fill="#c0c0c0" />
<rect x="68" y="681" width="1" height="19" fill="#c0c0c0" />
<rect x="76" y="681" width="1" height="15" fill="#c0c0c0" />
<rect x="84" y="681" width="1" height="15" fill="#c0c0c0" />
<rect x="92" y="681" width="1" height="15" fill="#c0c0c0" />
<rect x="100" y="681" width="1" height="16" fill="#c0c0c0" />
<rect x="108" y="681" width="1" height="19" fill="#c0c0c0" />
<rect x="116" y="681" width="1" height="20" fill="#c0c0c0" />
<rect x="124" y="681" width="1" height="21" fill="#c0c0c0" />
<rect x="132" y="681" width="1" height="20" fill="#c0c0c0" />
<rect x="140" y="681" width="1" height="20" fill="#c0c0c0" />
<rect x="148" y="681" width="1" height="16" fill="#c0c0c0" />
<rect x="156" y="681" width="1" height="16" fill="#c0c0c0" />
<rect x="164" y="681" width="1" height="7" fill="#c0c0c0" />
<rect x="172" y="678" width="1" height="4" fill="#c0c0c0" />
<rect x="180" y="672" width="1" height="10" fill="#c0c0c0" />
<rect x="188" y="669" width="1" height="13" fill="#c0c0c0" />
<rect x="196" y="668" width="1" height="14" fill="#c0c0c0" />
<rect x="204" y="677" width="1" height="5" fill="#c0c0c0" />
<rect x="220" y="681" width="1" height="11" fill="#c0c0c0" />
<rect x="228" y="681" width="1" height="18" fill="#c0c0c0" />
<rect x="236" y="681" width="1" height="24" fill="#c0c0c0" />
<rect x="244" y="681" width="1" height="31" fill="#c0c0c0" />
<rect x="252" y="681" width="1" height="34" fill="#c0c0c0" />
<rect x="260" y="681" width="1" height="33" fill="#c0c0c0" />
<rect x="268" y="681" width="1" height="29" fill="#c0c0c0" />
<rect x="276" y="681" width="1" height="24" fill="#c0c0c0" />
<rect x="284" y="681" width="1" height="21" fill="#c0c0c0" />
<rect x="292" y="681" width="1" height="22" fill="#c0c0c0" />
<rect x="300" y="681" width="1" height="21" fill="#c0c0c0" />
<rect x="308" y="681" width="1" height="21" fill="#c0c0c0" />
<rect x="316" y="681" width="1" height="20" fill="#c0c0c0" />
<rect x="324" y="681" width="1" height="20" fill="#c0c0c0" />
<rect x="332" y="681" width="1" height="19" fill="#c0c0c0" />
<rect x="340" y="681" width="1" height="17" fill="#c0c0c0" />
<rect x="348" y="681" width="1" height="19" fill="#c0c0c0" />
<rect x="356" y="681" width="1" height="22" fill="#c0c0c0" />
<rect x="364" y="681" width="1" height="23" fill="#c0c0c0" />
<rect x="372" y="681" width="1" height="26" fill="#c0c0c0" />
<rect x="380" y="681" width="1" height="27" fill="#c0c0c0" />
<rect x="388" y="681" width="1" height="29" fill="#c0c0c0" />
<rect x="396" y="681" width="1" height="31" fill="#c0c0c0" />
<rect x="404" y="681" width="1" height="32" fill="#c0c0c0" />
<rect x="412" y="681" width="1" height="37" fill="#c0c0c0" />
<rect x="420" y="681" width="1" height="43" fill="#c0c0c0" />
<rect x="428" y="681" width="1" height="49" fill="#c0c0c0" />
<rect x="436" y="681" width="1" height="52" fill="#c0c0c0" />
<rect x="444" y="681" width="1" height="54" fill="#c0c0c0" />
<rect x="452" y="681" width="1" height="55" fill="#c0c0c0" />
<rect x="460" y="681" width="1" height="59" fill="#c0c0c0" />
<rect x="468" y="681" width="1" height="59" fill="#c0c0c0" />
<rect x="476" y="681" width="1" height="58" fill="#c0c0c0" />
<rect x="484" y="681" width="1" height="57" fill="#c0c0c0" />
<rect x="492" y="681" width="1" height="57" fill="#c0c0c0" />
<rect x="500" y="681" width="1" height="55" fill="#c0c0c0" />
<rect x="508" y="681" width="1" height="55" fill="#c0c0c0" />
<rect x="516" y="681" width="1" height="52" fill="#c0c0c0" />
<rect x="524" y="681" width="1" height="48" fill="#c0c0c0" />
<rect x="532" y="681" width="1" height="40" fill="#c0c0c0" />
<rect x="540" y="681" width="1" height="31" fill="#c0c0c0" />
<rect x="548" y="681" width="1" height="27" fill="#c0c0c0" />
<rect x="556" y="681" width="1" height="24" fill="#c0c0c0" />
<rect x="564" y="681" width="1" height="22" fill="#c0c0c0" />
<rect x="572" y="681" width="1" height="19" fill="#c0c0c0" />
<rect x="580" y="681" width="1" height="19" fill="#c0c0c0" />
<rect x="588" y="681" width="1" height="21" fill="#c0c0c0" />
<rect x="596" y="681" width="1" height="24" fill="#c0c0c0" />
<rect x="604" y="681" width="1" height="27" fill="#c0c0c0" />
<rect x="612" y="681" width="1" height="28" fill="#c0c0c0" />
<rect x="620" y="681" width="1" height="28" fill="#c0c0c0" />
<rect x="628" y="681" width="1" height="30" fill="#c0c0c0" />
<rect x="636" y="681" width="1" height="30" fill="#c0c0c0" />
<rect x="644" y="681" width="1" height="32" fill="#c0c0c0" />
<rect x="652" y="681" width="1" height="31" fill="#c0c0c0" />
<rect x="660" y="681" width="1" height="26" fill="#c0c0c0" />
<rect x="668" y="681" width="1" height="23" fill="#c0c0c0" />
<rect x="676" y="681" width="1" height="23" fill="#c0c0c0" />
<rect x="684" y="681" width="1" height="27" fill="#c0c0c0" />
<rect x="692" y="681" width="1" height="23" fill="#c0c0c0" />
<rect x="700" y="681" width="1" height="22" fill="#c0c0c0" />
<rect x="708" y="681" width="1" height="19" fill="#c0c0c0" />
<rect x="716" y="681" width="1" height="18" fill="#c0c0c0" />
<rect x="724" y="681" width="1" height="23" fill="#c0c0c0" />
<rect x="732" y="681" width="1" height="26" fill="#c0c0c0" />
<rect x="740" y="681" width="1" height="24" fill="#c0c0c0" />
<rect x="748" y="681" width="1" height="21" fill="#c0c0c0" />
<rect x="756" y="681" width="1" height="18" fill="#c0c0c0" />
<rect x="764" y="681" width="1" height="17" fill="#c0c0c0" />
<rect x="772" y="681" width="1" height="13" fill="#c0c0c0" />
<rect x="780" y="681" width="1" height="8" fill="#c0c0c0" />
<rect x="788" y="681" width="1" height="6" fill="#c0c0c0" />
<rect x="804" y="678" width="1" height="4" fill="#c0c0c0" />
<rect x="812" y="675" width="1" height="7" fill="#c0c0c0" />
<rect x="820" y="675" width="1" height="7" fill="#c0c0c0" />
<rect x="828" y="672" width="1" height="10" fill="#c0c0c0" />
<rect x="836" y="673" width="1" height="9" fill="#c0c0c0" />
<rect x="844" y="675" width="1" height="7" fill="#c0c0c0" />
<rect x="852" y="677" width="1" height="5" fill="#c0c0c0" />
<rect x="868" y="681" width="1" height="5" fill="#c0c0c0" />
<rect x="876" y="681" width="1" height="8" fill="#c0c0c0" />
<rect x="884" y="681" width="1" height="9" fill="#c0c0c0" />
<rect x="892" y="681" width="1" height="10" fill="#c0c0c0" />
<rect x="900" y="681" width="1" height="14" fill="#c0c0c0" />
<rect x="908" y="681" width="1" height="15" fill="#c0c0c0" />
<rect x="916" y="681" width="1" height="13" fill="#c0c0c0" />
<rect x="924" y="681" width="1" height="12" fill="#c0c0c0" />
<rect x="932" y="681" width="1" height="17" fill="#c0c0c0" />
<rect x="940" y="681" width="1" height="20" fill="#c0c0c0" />
<rect x="948" y="681" width="1" height="22" fill="#c0c0c0" />
<rect x="956" y="681" width="1" height="24" fill="#c0c0c0" />
<rect x="964" y="681" width="1" height="28" fill="#c0c0c0" />
<rect x="972" y="681" width="1" height="32" fill="#c0c0c0" />
<rect x="980" y="681" width="1" height="29" fill="#c0c0c0" />
<rect x="988" y="681" width="1" height="23" fill="#c0c0c0" />
<rect x="996" y="681" width="1" height="21" fill="#c0c0c0" />
<rect x="1004" y="681" width="1" height="20" fill="#c0c0c0" />
<rect x="1012" y="681" width="1" height="20" fill="#c0c0c0" />
<rect x="1020" y="681" width="1" height="20" fill="#c0c0c0" />
<rect x="1028" y="681" width="1" height="16" fill="#c0c0c0" />
<rect x="1036" y="681" width="1" height="14" fill="#c0c0c0" />
<rect x="1044" y="681" width="1" height="12" fill="#c0c0c0" />
<rect x="1052" y="681" width="1" height="11" fill="#c0c0c0" />
<rect x="1060" y="681" width="1" height="11" fill="#c0c0c0" />
<rect x="1068" y="681" width="1" height="14" fill="#c0c0c0" />
<rect x="1076" y="681" width="1" height="20" fill="#c0c0c0" />
<rect x="1084" y="681" width="1" height="26" fill="#c0c0c0" />
<rect x="1092" y="681" width="1" height="30" fill="#c0c0c0" />
<rect x="1100" y="681" width="1" height="34" fill="#c0c0c0" />
<rect x="1108" y="681" width="1" height="35" fill="#c0c0c0" />
<rect x="1116" y="681" width="1" height="38" fill="#c0c0c0" />
<rect x="1124" y="681" width="1" height="36" fill="#c0c0c0" />
<rect x="1132" y="681" width="1" height="35" fill="#c0c0c0" />
<rect x="1140" y="681" width="1" height="32" fill="#c0c0c0" />
<rect x="1148" y="681" width="1" height="29" fill="#c0c0c0" />
<rect x="1156" y="681" width="1" height="25" fill="#c0c0c0" />
<rect x="1164" y="681" width="1" height="19" fill="#c0c0c0" />
<rect x="1172" y="681" width="1" height="16" fill="#c0c0c0" />
<rect x="1180" y="681" width="1" height="13" fill="#c0c0c0" />
<rect x="1188" y="681" width="1" height="10" fill="#c0c0c0" />
<rect x="1196" y="681" width="1" height="6" fill="#c0c0c0" />
<rect x="1204" y="681" width="1" height="6" fill="#c0c0c0" />
<rect x="1212" y="681" width="1" height="6" fill="#c0c0c0" />
<rect x="1220" y="681" width="1" height="7" fill="#c0c0c0" />
<rect x="1228" y="681" width="1" height="6" fill="#c0c0c0" />
<rect x="1236" y="681" width="1" height="9" fill="#c0c0c0" />
<rect x="1244" y="681" width="1" height="9" fill="#c0c0c0" />
<polyline points="4.5,654.0 12.5,655.7 20.5,657.5 28.5,659.8 36.5,663.2 44.5,667.3 52.5,671.8 60.5,676.5 68.5,681.5 76.5,685.1 84.5,688.3 92.5,691.3 100.5,694.0 108.5,695.9 116.5,697.2 124.5,698.0 132.5,698.4 140.5,698.5 148.5,698.5 156.5,698.6 164.5,697.7 172.5,695.6 180.5,692.6 188.5,689.1 196.5,685.5 204.5,682.9 212.5,680.9 220.5,680.3 228.5,680.6 236.5,682.5 244.5,686.2 252.5,690.9 260.5,695.8 268.5,700.4 276.5,703.4 284.5,705.6 292.5,706.8 300.5,707.0 308.5,706.8 316.5,705.6 324.5,704.1 332.5,702.5 340.5,701.1 348.5,700.6 356.5,700.7 364.5,700.8 372.5,701.3 380.5,702.0 388.5,703.0 396.5,704.1 404.5,705.6 412.5,707.8 420.5,710.4 428.5,713.5 436.5,716.7 444.5,719.8 452.5,722.9 460.5,726.2 468.5,729.3 476.5,732.1 484.5,734.3 492.5,735.8 500.5,736.5 508.5,736.9 516.5,736.7 524.5,736.0 532.5,733.9 540.5,730.9 548.5,727.4 556.5,723.8 564.5,719.9 572.5,715.8 580.5,711.8 588.5,708.4 596.5,705.7 604.5,704.2 612.5,703.8 620.5,704.0 628.5,704.7 636.5,705.6 644.5,707.1 652.5,708.5 660.5,709.0 668.5,708.9 676.5,708.5 684.5,708.3 692.5,707.8 700.5,707.0 708.5,705.8 716.5,704.3 724.5,703.4 732.5,703.4 740.5,703.5 748.5,703.2 756.5,702.3 764.5,701.5 772.5,700.5 780.5,699.2 788.5,697.8 796.5,695.5 804.5,692.3 812.5,689.1 820.5,686.1 828.5,683.3 836.5,680.6 844.5,678.6 852.5,677.4 860.5,676.8 868.5,677.1 876.5,678.1 884.5,679.7 892.5,681.5 900.5,684.0 908.5,686.4 916.5,688.5 924.5,690.2 932.5,692.1 940.5,693.7 948.5,695.3 956.5,697.0 964.5,698.9 972.5,700.9 980.5,702.4 988.5,703.5 996.5,704.4 1004.5,704.8 1012.5,704.8 1020.5,704.6 1028.5,703.6 1036.5,702.1 1044.5,699.8 1052.5,697.9 1060.5,696.6 1068.5,695.9 1076.5,695.9 1084.5,696.7 1092.5,697.7 1100.5,699.7 1108.5,702.1 1116.5,705.0 1124.5,707.8 1132.5,710.5 1140.5,712.5 1148.5,713.4 1156.5,713.3 1164.5,712.2 1172.5,710.2 1180.5,707.7 1188.5,704.6 1196.5,701.2 1204.5,697.9 1212.5,695.0 1220.5,692.5 1228.5,690.4 1236.5,689.2 1244.5,688.4" fill="none" stroke="#ff0000" stroke-width="1" stroke-dasharray="3,3"/>
</g>
<text x="8" y="660" font-size="9.6" fill="#000" textLength="154" lengthAdjust="spacingAndGlyphs" stroke="#000" stroke-width="0.1" >MACD(12,26,9) -0.001255 -0.001042</text>
<text x="1584" y="658" font-size="9.6" fill="#000" stroke="#000" stroke-width="0.1" >0.005296</text>
<text x="1584" y="685" font-size="9.6" fill="#000" stroke="#000" stroke-width="0.1" >0.00</text>
<text x="1583" y="740" font-size="9.6" fill="#000" stroke="#000" stroke-width="0.1" >-0.009816</text>
<g shape-rendering="crispEdges">
<rect x="1581" y="681" width="2" height="1" fill="#000" />
<rect x="1581" y="551" width="1" height="1" fill="#000" />
<rect x="1581" y="644" width="1" height="1" fill="#000" />
<rect x="1581" y="649" width="1" height="1" fill="#000" />
</g>
<g shape-rendering="crispEdges">
<rect x="4" y="744" width="1" height="3" fill="#000" />
<rect x="68" y="744" width="1" height="3" fill="#000" />
<rect x="132" y="744" width="1" height="3" fill="#000" />
<rect x="196" y="744" width="1" height="3" fill="#000" />
<rect x="260" y="744" width="1" height="3" fill="#000" />
<rect x="324" y="744" width="1" height="3" fill="#000" />
<rect x="388" y="744" width="1" height="3" fill="#000" />
<rect x="452" y="744" width="1" height="3" fill="#000" />
<rect x="516" y="744" width="1" height="3" fill="#000" />
<rect x="580" y="744" width="1" height="3" fill="#000" />
<rect x="644" y="744" width="1" height="3" fill="#000" />
<rect x="708" y="744" width="1" height="3" fill="#000" />
<rect x="772" y="744" width="1" height="3" fill="#000" />
<rect x="836" y="744" width="1" height="3" fill="#000" />
<rect x="900" y="744" width="1" height="3" fill="#000" />
<rect x="964" y="744" width="1" height="3" fill="#000" />
<rect x="1028" y="744" width="1" height="3" fill="#000" />
<rect x="1092" y="744" width="1" height="3" fill="#000" />
<rect x="1156" y="744" width="1" height="3" fill="#000" />
<rect x="1220" y="744" width="1" height="3" fill="#000" />
</g>
<text x="2.95" y="756" font-size="9.6" fill="#000" textLength="46.5" lengthAdjust="spacingAndGlyphs" stroke="#000" stroke-width="0.1" >5 Oct 2020</text>
<text x="66.6" y="756" font-size="9.6" fill="#000" textLength="51.4" lengthAdjust="spacingAndGlyphs" stroke="#000" stroke-width="0.1" >14 Oct 2020</text>
<text x="131.25" y="756" font-size="9.6" fill="#000" textLength="50.8" lengthAdjust="spacingAndGlyphs" stroke="#000" stroke-width="0.1" >23 Oct 2020</text>
<text x="196.15" y="756" font-size="9.6" fill="#000" textLength="48.0" lengthAdjust="spacingAndGlyphs" stroke="#000" stroke-width="0.1" >2 Nov 2020</text>
<text x="259.8" y="756" font-size="9.6" fill="#000" textLength="53.0" lengthAdjust="spacingAndGlyphs" stroke="#000" stroke-width="0.1" >11 Nov 2020</text>
<text x="323.45" y="756" font-size="9.6" fill="#000" textLength="53.4" lengthAdjust="spacingAndGlyphs" stroke="#000" stroke-width="0.1" >20 Nov 2020</text>
<text x="387.65" y="756" font-size="9.6" fill="#000" textLength="53.4" lengthAdjust="spacingAndGlyphs" stroke="#000" stroke-width="0.1" >30 Nov 2020</text>
<text x="452.05" y="756" font-size="9.6" fill="#000" textLength="46.4" lengthAdjust="spacingAndGlyphs" stroke="#000" stroke-width="0.1" >9 Dec 2020</text>
<text x="515.3" y="756" font-size="9.6" fill="#000" textLength="52.4" lengthAdjust="spacingAndGlyphs" stroke="#000" stroke-width="0.1" >18 Dec 2020</text>
<text x="578.95" y="756" font-size="9.6" fill="#000" textLength="52.0" lengthAdjust="spacingAndGlyphs" stroke="#000" stroke-width="0.1" >29 Dec 2020</text>
<text x="642.95" y="756" font-size="9.6" fill="#000" textLength="45.4" lengthAdjust="spacingAndGlyphs" stroke="#000" stroke-width="0.1" >8 Jan 2021</text>
<text x="706.6" y="756" font-size="9.6" fill="#000" textLength="50.8" lengthAdjust="spacingAndGlyphs" stroke="#000" stroke-width="0.1" >18 Jan 2021</text>
<text x="771.85" y="756" font-size="9.6" fill="#000" textLength="49.7" lengthAdjust="spacingAndGlyphs" stroke="#000" stroke-width="0.1" >27 Jan 2021</text>
<text x="835.45" y="756" font-size="9.6" fill="#000" textLength="46.7" lengthAdjust="spacingAndGlyphs" stroke="#000" stroke-width="0.1" >5 Feb 2021</text>
<text x="898.8" y="756" font-size="9.6" fill="#000" textLength="52.4" lengthAdjust="spacingAndGlyphs" stroke="#000" stroke-width="0.1" >15 Feb 2021</text>
<text x="963.35" y="756" font-size="9.6" fill="#000" textLength="52.1" lengthAdjust="spacingAndGlyphs" stroke="#000" stroke-width="0.1" >24 Feb 2021</text>
<text x="1027.65" y="756" font-size="9.6" fill="#000" textLength="46.1" lengthAdjust="spacingAndGlyphs" stroke="#000" stroke-width="0.1" >5 Mar 2021</text>
<text x="1090.7" y="756" font-size="9.6" fill="#000" textLength="52.8" lengthAdjust="spacingAndGlyphs" stroke="#000" stroke-width="0.1" >15 Mar 2021</text>
<text x="1154.75" y="756" font-size="9.6" fill="#000" textLength="52.8" lengthAdjust="spacingAndGlyphs" stroke="#000" stroke-width="0.1" >24 Mar 2021</text>
<text x="1219.15" y="756" font-size="9.6" fill="#000" textLength="46.1" lengthAdjust="spacingAndGlyphs" stroke="#000" stroke-width="0.1" >2 Apr 2021</text>
<g shape-rendering="crispEdges">
<rect x="0" y="764" width="1621" height="1" fill="#e3e3e3" />
<rect x="0" y="766" width="1621" height="1" fill="#000" />
<rect x="0" y="767" width="1621" height="19" fill="#f0f0f0" />
<rect x="313" y="766" width="104" height="19" fill="#000" />
<rect x="314" y="765" width="102" height="19" fill="#fff" />
<rect x="109" y="769" width="1" height="14" fill="#555555" />
<rect x="209" y="769" width="1" height="14" fill="#555555" />
<rect x="521" y="769" width="1" height="14" fill="#555555" />
<rect x="626" y="769" width="1" height="14" fill="#555555" />
<rect x="729" y="769" width="1" height="14" fill="#555555" />
<rect x="822" y="769" width="1" height="14" fill="#555555" />
<rect x="906" y="769" width="1" height="14" fill="#555555" />
<rect x="985" y="769" width="1" height="14" fill="#555555" />
<rect x="1066" y="769" width="1" height="14" fill="#555555" />
<rect x="1146" y="769" width="1" height="14" fill="#555555" />
<rect x="1222" y="769" width="1" height="14" fill="#555555" />
<rect x="1294" y="769" width="1" height="14" fill="#555555" />
<rect x="1377" y="769" width="1" height="14" fill="#555555" />
<rect x="1474" y="769" width="1" height="14" fill="#555555" />
<rect x="1573" y="769" width="1" height="14" fill="#555555" />
</g>
<text x="17" y="780.7" font-size="12.2" fill="#6d6d6d" textLength="80" lengthAdjust="spacingAndGlyphs" >EURUSD,Daily</text>
<text x="119" y="780.7" font-size="12.2" fill="#6d6d6d" textLength="79" lengthAdjust="spacingAndGlyphs" >USDCHF,Daily</text>
<text x="220" y="780.7" font-size="12.2" fill="#6d6d6d" textLength="82" lengthAdjust="spacingAndGlyphs" >AUDUSD,Daily</text>
<text x="427" y="780.7" font-size="12.2" fill="#6d6d6d" textLength="83" lengthAdjust="spacingAndGlyphs" >USDCNH,Daily</text>
<text x="533" y="780.7" font-size="12.2" fill="#6d6d6d" textLength="80" lengthAdjust="spacingAndGlyphs" >EURUSD,Daily</text>
<text x="637" y="780.7" font-size="12.2" fill="#6d6d6d" textLength="80" lengthAdjust="spacingAndGlyphs" >GBPUSD,Daily</text>
<text x="740" y="780.7" font-size="12.2" fill="#6d6d6d" textLength="69" lengthAdjust="spacingAndGlyphs" >XAUUSD,H4</text>
<text x="833" y="780.7" font-size="12.2" fill="#6d6d6d" textLength="60" lengthAdjust="spacingAndGlyphs" >HK50,M15</text>
<text x="917" y="780.7" font-size="12.2" fill="#6d6d6d" textLength="55" lengthAdjust="spacingAndGlyphs" >UK100,H1</text>
<text x="997" y="780.7" font-size="12.2" fill="#6d6d6d" textLength="55" lengthAdjust="spacingAndGlyphs" >UK100,H1</text>
<text x="1077" y="780.7" font-size="12.2" fill="#6d6d6d" textLength="56" lengthAdjust="spacingAndGlyphs" >GER30,H1</text>
<text x="1155" y="780.7" font-size="12.2" fill="#6d6d6d" textLength="54" lengthAdjust="spacingAndGlyphs" >FRA40,H1</text>
<text x="1231" y="780.7" font-size="12.2" fill="#6d6d6d" textLength="51" lengthAdjust="spacingAndGlyphs" >USOil,H1</text>
<text x="1303" y="780.7" font-size="12.2" fill="#6d6d6d" textLength="63" lengthAdjust="spacingAndGlyphs" >USDJPY,H1</text>
<text x="1388" y="780.7" font-size="12.2" fill="#6d6d6d" textLength="73" lengthAdjust="spacingAndGlyphs" >DJ30,Weekly</text>
<text x="1483" y="780.7" font-size="12.2" fill="#6d6d6d" textLength="79" lengthAdjust="spacingAndGlyphs" >CHINA300,H1</text>
<text x="324" y="780.7" font-size="12.2" fill="#000" textLength="81" lengthAdjust="spacingAndGlyphs" stroke="#000" stroke-width="0.1" >USDCAD,Daily</text>
<text x="1583" y="780.7" font-size="12.2" fill="#6d6d6d" textLength="7.5" lengthAdjust="spacingAndGlyphs" >U</text>
<g shape-rendering="crispEdges">
<rect x="1598" y="772" width="1" height="6" fill="#9a9a9a" />
<rect x="1597" y="773" width="1" height="4" fill="#9a9a9a" />
<rect x="1596" y="774" width="1" height="2" fill="#9a9a9a" />
<rect x="1615" y="772" width="1" height="6" fill="#000" />
<rect x="1616" y="773" width="1" height="4" fill="#000" />
<rect x="1617" y="774" width="1" height="2" fill="#000" />
</g>
</svg></body></html>
